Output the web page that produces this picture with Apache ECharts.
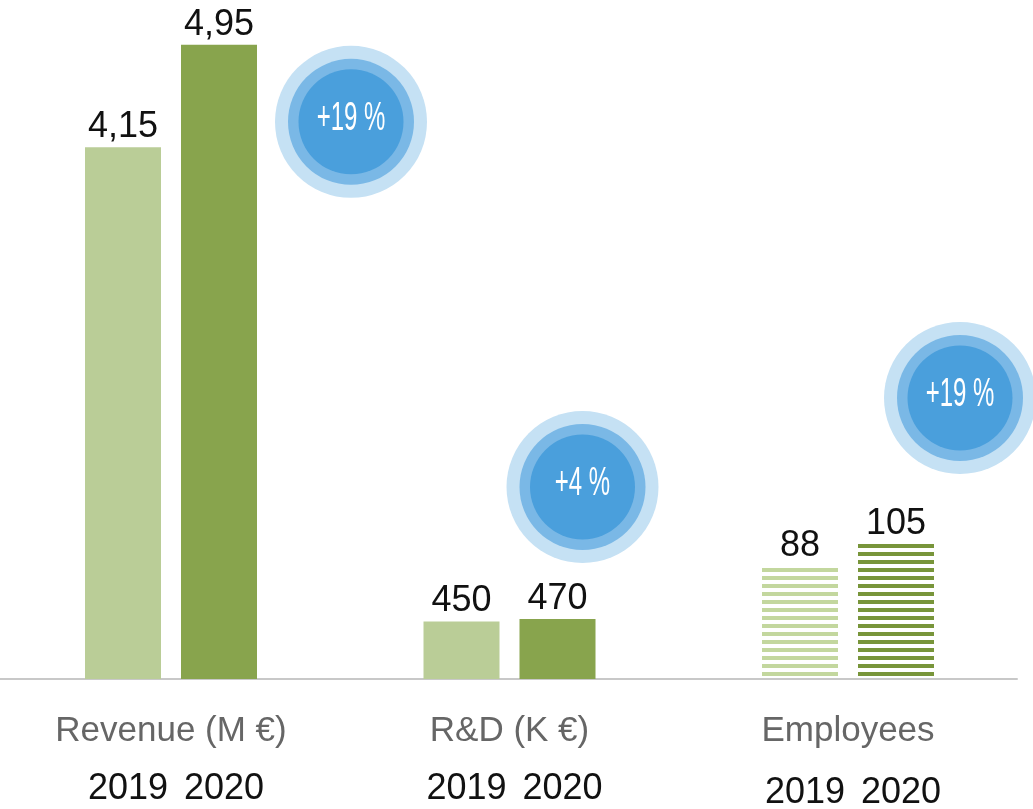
<!DOCTYPE html>
<html>
<head>
<meta charset="utf-8">
<script src="https://cdn.jsdelivr.net/npm/echarts@6/dist/echarts.min.js"></script>
<style>
  html, body { margin: 0; padding: 0; background: #fff; }
  #main { width: 1033px; height: 809px; }
</style>
</head>
<body>
<div id="main"></div>
<script>
// data
const groups = ['Revenue (M €)', 'R&D (K €)', 'Employees'];
const years = ['2019', '2020'];
const values2019 = [4.15, 450, 88];
const values2020 = [4.95, 470, 105];
const decimals = [2, 0, 0];

// each group gets its own scale (different units)
const axisMax = [5.30, 5319, 528];
const gridLeft = [75, 413.5, 752];
const bubbleOffset = [[132, 77], [25, -132], [64, -146]]; // from top of 2020 bar
const yearLabelMargin = [92, 92, 96];

const LIGHT = '#bacd97', DARK = '#88a44d';
const LIGHT_STRIPE = '#c3d79e', DARK_STRIPE = '#78953a';
const FONT = 'Liberation Sans, Arial, sans-serif';

function stripes(color) {
  const c = document.createElement('canvas');
  c.width = 8; c.height = 8;
  const ctx = c.getContext('2d');
  ctx.fillStyle = color;
  ctx.fillRect(0, 0, 8, 4);
  return { image: c, repeat: 'repeat' };
}

function fmt(v, d) {
  return v.toFixed(d).replace('.', ',');
}

const chart = echarts.init(document.getElementById('main'));

const grid = [], xAxis = [], yAxis = [], series = [];
groups.forEach((name, i) => {
  grid.push({ left: gridLeft[i], width: 192, top: 0, height: 679, outerBoundsMode: 'none', containLabel: false });
  xAxis.push({
    type: 'category', gridIndex: i, data: years,
    name: name, nameLocation: 'middle', nameGap: 35, nameMoveOverlap: false,
    nameTextStyle: { color: '#666', fontSize: 35, fontFamily: FONT },
    axisLine: { show: false }, axisTick: { show: false },
    axisLabel: {
      interval: 0, hideOverlap: false,
      color: '#111', fontSize: 36, fontFamily: FONT, margin: yearLabelMargin[i], padding: [0, 0, 0, 10]
    }
  });
  yAxis.push({ type: 'value', gridIndex: i, min: 0, max: axisMax[i], show: false });

  const striped = i === 2;
  const top = ['2020', values2020[i]];
  const off = bubbleOffset[i];
  series.push({
    type: 'bar', xAxisIndex: i, yAxisIndex: i, barWidth: 76,
    data: [
      { value: values2019[i], itemStyle: { color: striped ? stripes(LIGHT_STRIPE) : LIGHT } },
      { value: values2020[i], itemStyle: { color: striped ? stripes(DARK_STRIPE) : DARK } }
    ],
    label: {
      show: true, position: 'top', distance: 2,
      color: '#111', fontSize: 36, fontFamily: FONT,
      formatter: p => fmt(p.value, decimals[i])
    },
    markPoint: {
      symbol: 'circle', silent: true,
      label: { show: false },
      data: [
        { coord: top, symbolSize: 152, symbolOffset: off, itemStyle: { color: '#c5e1f4' } },
        { coord: top, symbolSize: 126, symbolOffset: off, itemStyle: { color: '#7ab8e6' } },
        { coord: top, symbolSize: 105, symbolOffset: off, itemStyle: { color: '#4a9fdc' } }
      ]
    }
  });
});

// full-width baseline
grid.push({ left: 0, width: 1017, top: 0, height: 679, outerBoundsMode: 'none', containLabel: false });
xAxis.push({
  type: 'category', gridIndex: 3, data: [],
  axisLine: { show: true, lineStyle: { color: '#c8c8c8', width: 2 } },
  axisTick: { show: false }, axisLabel: { show: false }
});
yAxis.push({ type: 'value', gridIndex: 3, show: false });

chart.setOption({
  animation: false,
  backgroundColor: '#fff',
  grid, xAxis, yAxis, series
});

// condensed percent labels inside the bubbles
const texts = groups.map((name, i) => {
  const pct = Math.round((values2020[i] / values2019[i] - 1) * 100);
  const p = chart.convertToPixel({ gridIndex: i }, ['2020', values2020[i]]);
  return {
    type: 'text',
    x: p[0] + bubbleOffset[i][0], y: p[1] + bubbleOffset[i][1] - 3,
    scaleX: 0.6, z: 100,
    style: {
      text: '+' + pct + ' %', fill: '#fff', fontSize: 40, fontFamily: FONT,
      align: 'center', verticalAlign: 'middle'
    }
  };
});
chart.setOption({ graphic: texts });
</script>
</body>
</html>
